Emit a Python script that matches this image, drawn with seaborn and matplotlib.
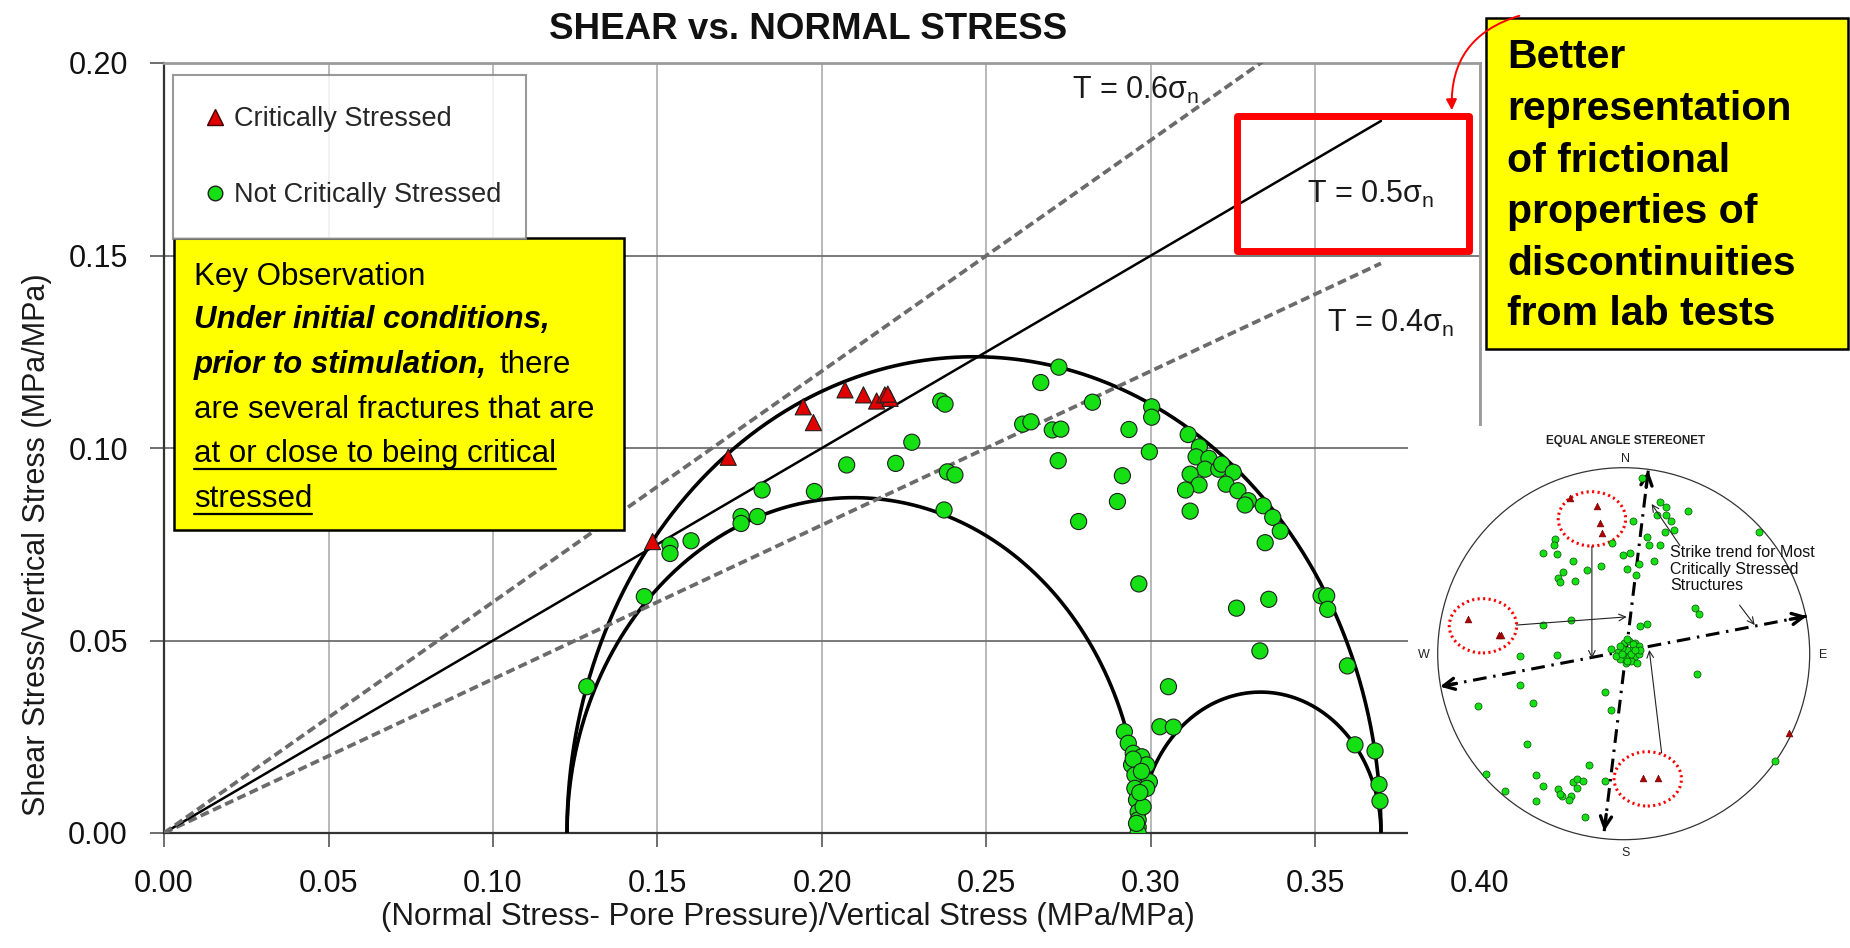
import numpy as np
import pandas as pd
import matplotlib
matplotlib.use("Agg")
import matplotlib.pyplot as plt
import seaborn as sns
from matplotlib.patches import Rectangle, Ellipse, Circle, FancyArrowPatch
from matplotlib.lines import Line2D
from matplotlib import font_manager as fm

# ---------------- data ----------------
principal_stresses = [0.1225, 0.2967, 0.3699]      # sigma3, sigma2, sigma1 (normalised)
friction_coeffs = [0.4, 0.5, 0.6]
friction_labels = ["T = 0.4σ$_\\mathrm{n}$", "T = 0.5σ$_\\mathrm{n}$", "T = 0.6σ$_\\mathrm{n}$"]
friction_label_pos = [(0.3534, 0.1301), (0.3473, 0.1637), (0.2759, 0.1906)]

crit_x = [0.1485, 0.1715, 0.1943, 0.1974, 0.2070, 0.2126, 0.2166, 0.2191, 0.2207, 0.2200]
crit_y = [0.0757, 0.0976, 0.1107, 0.1066, 0.1151, 0.1138, 0.1122, 0.1138, 0.1129, 0.1140]

ncrit_x = [0.1285, 0.1460, 0.1538, 0.1538, 0.1602, 0.1754, 0.1754, 0.1804, 0.1818, 0.1977,
           0.2075, 0.2224, 0.2273, 0.2361, 0.2374, 0.2381, 0.2404, 0.2371, 0.2665, 0.2610,
           0.2635, 0.2720, 0.2822, 0.2700, 0.2726, 0.2933, 0.3002, 0.3002, 0.2995, 0.2718,
           0.2913, 0.2898, 0.2780, 0.2963, 0.3113, 0.3147, 0.3137, 0.3176, 0.3164, 0.3119,
           0.3206, 0.3215, 0.3250, 0.3146, 0.3105, 0.3228, 0.3264, 0.3296, 0.3286, 0.3341,
           0.3370, 0.3119, 0.3393, 0.3347, 0.3517, 0.3534, 0.3537, 0.3358, 0.3260, 0.3331,
           0.3597, 0.3053, 0.3027, 0.3068, 0.3620, 0.3681, 0.3693, 0.3696,
           0.2919, 0.2931, 0.2946, 0.2972, 0.2987, 0.2941, 0.2951, 0.2995, 0.2951, 0.2987,
           0.2956, 0.2961, 0.2961, 0.2961, 0.2961, 0.2976, 0.2966, 0.2946, 0.2971, 0.2956]
ncrit_y = [0.0380, 0.0614, 0.0748, 0.0726, 0.0759, 0.0822, 0.0804, 0.0822, 0.0891, 0.0887,
           0.0956, 0.0960, 0.1015, 0.1122, 0.1114, 0.0938, 0.0930, 0.0839, 0.1170, 0.1062,
           0.1068, 0.1210, 0.1119, 0.1047, 0.1049, 0.1048, 0.1107, 0.1080, 0.0990, 0.0967,
           0.0928, 0.0861, 0.0809, 0.0647, 0.1035, 0.1003, 0.0977, 0.0973, 0.0945, 0.0932,
           0.0945, 0.0958, 0.0937, 0.0904, 0.0891, 0.0906, 0.0889, 0.0863, 0.0852, 0.0850,
           0.0820, 0.0836, 0.0784, 0.0754, 0.0616, 0.0616, 0.0581, 0.0607, 0.0584, 0.0473,
           0.0434, 0.0380, 0.0276, 0.0275, 0.0229, 0.0213, 0.0126, 0.0083,
           0.0263, 0.0233, 0.0207, 0.0198, 0.0177, 0.0177, 0.0151, 0.0133, 0.0116, 0.0116,
           0.0086, 0.0055, 0.0034, 0.0015, 0.0000, 0.0068, 0.0105, 0.0192, 0.0160, 0.0025]

x_ticks = [0.00, 0.05, 0.10, 0.15, 0.20, 0.25, 0.30, 0.35, 0.40]
y_ticks = [0.00, 0.05, 0.10, 0.15, 0.20]
status_labels = ["Critically Stressed", "Not Critically Stressed"]

# stereonet (unit circle coordinates)
pole_u = [0.10, 0.195, 0.23, 0.177, 0.23, 0.252, 0.348, 0.052, 0.273, 0.22, 0.125, 0.138, 0.195,
          -0.061, -0.368, -0.375, -0.436, -0.357, -0.273, -0.121, -0.195, -0.329, -0.355, -0.345,
          -0.264, -0.002, 0.034, 0.084, 0.016, 0.066, 0.164, 0.727, 0.382, 0.405, 0.088, 0.127,
          -0.284, -0.434, -0.559, -0.357, -0.066, -0.557, -0.782, -0.489, -0.102, -0.066, 0.396,
          -0.518, -0.738, -0.636, -0.47, -0.434, -0.352, -0.332, -0.282, -0.293, -0.27, -0.252,
          -0.218, -0.252, -0.188, -0.098, -0.47, -0.207, 0.814, -0.345,
          0.0, 0.03, 0.06, 0.08, 0.05, 0.02, -0.01, -0.03, 0.0, 0.03, 0.06, 0.08, 0.04, 0.01,
          -0.02, -0.04, 0.07, 0.09, -0.01, 0.05, 0.02, 0.04, -0.02, 0.06, 0.02]
pole_v = [0.945, 0.818, 0.791, 0.746, 0.746, 0.712, 0.766, 0.712, 0.663, 0.654, 0.627, 0.586, 0.582,
          0.595, 0.618, 0.582, 0.541, 0.534, 0.498, 0.473, 0.45, 0.439, 0.409, 0.386,
          0.393, 0.532, 0.541, 0.484, 0.457, 0.421, 0.496, 0.654, 0.248, 0.211, 0.15, 0.157,
          0.179, 0.154, -0.011, -0.007, 0.025, -0.168, -0.279, -0.266, -0.204, -0.304, -0.111,
          -0.488, -0.645, -0.739, -0.654, -0.709, -0.73, -0.766, -0.766, -0.786, -0.691, -0.673,
          -0.682, -0.721, -0.6, -0.682, -0.793, -0.877, -0.579, -0.752,
          0.06, 0.07, 0.06, 0.04, 0.03, 0.02, 0.03, 0.01, -0.01, -0.02, -0.01, 0.0, -0.04, -0.05,
          -0.03, -0.01, -0.05, 0.02, 0.0, 0.05, 0.08, 0.0, 0.04, 0.02, -0.04]
crit_pole_u = [-0.145, -0.127, -0.118, -0.291, -0.836, -0.671, -0.660, 0.105, 0.182, 0.891]
crit_pole_v = [0.793, 0.702, 0.648, 0.836, 0.186, 0.100, 0.100, -0.668, -0.668, -0.427]
strike_ns = [(-0.105, -0.954), (0.132, 0.984)]
strike_ew = [(0.984, 0.202), (-0.988, -0.177)]

# ---------------- style ----------------
sns.set_style("white")
avail = {f.name for f in fm.fontManager.ttflist}
HAS_NARROW = "Liberation Sans Narrow" in avail
plt.rcParams["font.family"] = ["Liberation Sans", "DejaVu Sans"]
plt.rcParams["mathtext.fontset"] = "custom"
plt.rcParams["mathtext.rm"] = "Liberation Sans"
plt.rcParams["mathtext.it"] = "Liberation Sans:italic"
plt.rcParams["mathtext.bf"] = "Liberation Sans:bold"
NARROW = ["Liberation Sans Narrow", "Liberation Sans", "DejaVu Sans"] if HAS_NARROW else ["Liberation Sans", "DejaVu Sans"]
KSIZE = 27 if HAS_NARROW else 22.5
SSIZE = 13 if HAS_NARROW else 11.5
TSIZE = 24 if HAS_NARROW else 22

W, H = 1850, 948
fig = plt.figure(figsize=(W / 100, H / 100), dpi=100, facecolor="white")
X0, X1, Y0, Y1 = 164, 1480, 833, 63
ax = fig.add_axes([X0 / W, 1 - Y0 / H, (X1 - X0) / W, (Y0 - Y1) / H])
ax.set_xlim(0, 0.40)
ax.set_ylim(0, 0.20)

# grid
ax.set_axisbelow(True)
ax.xaxis.grid(True, color="#b3b3b3", lw=1.3)
ax.yaxis.grid(True, color="#707070", lw=1.3)
for s in ["top", "right"]:
    ax.spines[s].set_color("#9a9a9a")
    ax.spines[s].set_linewidth(2)
for s in ["left", "bottom"]:
    ax.spines[s].set_color("#333333")
    ax.spines[s].set_linewidth(1.6)

ax.set_xticks(x_ticks)
ax.set_xticklabels([f"{v:.2f}" for v in x_ticks])
ax.set_yticks(y_ticks)
ax.set_yticklabels([f"{v:.2f}" for v in y_ticks])
ax.tick_params(axis="both", direction="out", length=10, width=1.2, color="#555555",
               labelsize=TSIZE, pad=16, labelcolor="#111111", bottom=True, left=True)
for lbl in ax.get_xticklabels() + ax.get_yticklabels():
    lbl.set_family(NARROW)

# Mohr circles
s3, s2, s1 = principal_stresses
theta = np.linspace(0, np.pi, 500)
for a, b in [(s3, s1), (s3, s2), (s2, s1)]:
    c, r = (a + b) / 2, (b - a) / 2
    ax.plot(c + r * np.cos(theta), r * np.sin(theta), color="black", lw=2.6, zorder=3,
            solid_capstyle="butt")

# friction lines
xs = np.array([0.0, s1])
for mu in friction_coeffs:
    if mu == 0.5:
        ax.plot(xs, mu * xs, color="black", lw=1.8, zorder=3)
    else:
        ax.plot(xs, mu * xs, color="#6b6b6b", lw=2.7, linestyle=(0, (2.4, 1.2)), zorder=3)
for lab, (lx, ly) in zip(friction_labels, friction_label_pos):
    ax.text(lx, ly, lab, fontsize=22, color="#1a1a1a", va="baseline", ha="left", zorder=13)

# scatter points
df = pd.DataFrame({
    "x": ncrit_x + crit_x,
    "y": ncrit_y + crit_y,
    "status": [status_labels[1]] * len(ncrit_x) + [status_labels[0]] * len(crit_x),
})
sns.scatterplot(data=df, x="x", y="y", hue="status", style="status",
                markers={status_labels[0]: "^", status_labels[1]: "o"},
                palette={status_labels[0]: "#e00000", status_labels[1]: "#14e014"},
                s=135, edgecolor="#1f1f1f", linewidth=0.8, legend=False, ax=ax, zorder=6)

# labels and title
ax.set_xlabel("(Normal Stress- Pore Pressure)/Vertical Stress (MPa/MPa)", fontsize=22.5, color="#1a1a1a")
ax.xaxis.label.set_va("baseline")
ax.xaxis.set_label_coords(0.474, (Y0 - 925) / (Y0 - Y1))
ax.set_ylabel("Shear Stress/Vertical Stress (MPa/MPa)", fontsize=22, color="#1a1a1a")
ax.yaxis.label.set_va("center")
ax.yaxis.set_label_coords((37 - X0) / (X1 - X0), (Y0 - 545) / (Y0 - Y1))
ax.set_title("SHEAR vs. NORMAL STRESS", fontsize=26.5, fontweight="bold", color="#111111",
             x=(808 - X0) / (X1 - X0), y=(Y0 - 39) / (Y0 - Y1), va="baseline", pad=0)

# legend
handles = [Line2D([], [], marker="^", color="none", markerfacecolor="#e00000",
                  markeredgecolor="#400000", markersize=11),
           Line2D([], [], marker="o", color="none", markerfacecolor="#14e014",
                  markeredgecolor="#1f1f1f", markersize=10.5)]
def afx(px):
    return (px - X0) / (X1 - X0)
def afy(py):
    return (Y0 - py) / (Y0 - Y1)
leg = ax.legend(handles, status_labels, loc="upper left",
                bbox_to_anchor=(afx(173), afy(228), afx(526) - afx(173), afy(75) - afy(228)),
                mode="expand", borderaxespad=0, frameon=True, fancybox=False,
                edgecolor="#808080", fontsize=19.5, labelspacing=1.85, borderpad=1.15,
                handlelength=0.8, handletextpad=0.3)
leg.get_frame().set_linewidth(1.5)
leg.set_zorder(20)

# key observation box
ax.add_patch(Rectangle((afx(174), afy(530)), afx(624) - afx(174), afy(238) - afy(530),
                       transform=ax.transAxes, facecolor="#ffff00", edgecolor="black",
                       lw=1.8, zorder=15, clip_on=False))
kx = afx(194)
kt = dict(transform=ax.transAxes, fontsize=KSIZE, family=NARROW, color="black",
          va="baseline", ha="left", zorder=16, clip_on=False)
ax.text(kx, afy(285), "Key Observation", **kt)
ax.text(kx, afy(328), "Under initial conditions,", fontweight="bold", fontstyle="italic", **kt)
ax.text(kx, afy(373), "prior to stimulation,", fontweight="bold", fontstyle="italic", **kt)
ax.text(afx(500), afy(373), "there", **kt)
ax.text(kx, afy(418), "are several fractures that are", **kt)
u1 = ax.text(kx, afy(462), "at or close to being critical", **kt)
u2 = ax.text(kx, afy(507), "stressed", **kt)

# red rectangle around T = 0.5 label and note
ax.add_patch(Rectangle((0.3261, 0.1512), 0.0706, 0.0350, fill=False, edgecolor="#ff0000",
                       lw=5, zorder=12, clip_on=False, joinstyle="round"))

fig.add_artist(Rectangle((1486 / W, 1 - 349 / H), (1848 - 1486) / W, (349 - 18) / H,
                         transform=fig.transFigure, facecolor="#ffff00", edgecolor="black",
                         lw=1.8, zorder=3))
note_lines = ["Better", "representation", "of frictional", "properties of",
              "discontinuities", "from lab tests"]
for line, by in zip(note_lines, [68, 120, 172, 223, 275, 325]):
    fig.text(1507 / W, 1 - by / H, line, fontsize=29.5, fontweight="bold", color="black",
             va="baseline", ha="left", zorder=4)
fig.add_artist(FancyArrowPatch((1522 / W, 1 - 15 / H), (1452 / W, 1 - 113 / H),
                               transform=fig.transFigure, arrowstyle="-|>", color="#ff0000",
                               lw=1.4, mutation_scale=16, connectionstyle="arc3,rad=0.4",
                               zorder=5))

# ---------------- stereonet inset ----------------
IX0, IX1, IY0, IY1 = 1408, 1850, 866, 426
ax_in = fig.add_axes([IX0 / W, 1 - IY0 / H, (IX1 - IX0) / W, (IY0 - IY1) / H])
cx, cy, R = 1623.7, 653.7, 186.0
ax_in.set_xlim((IX0 - cx) / R, (IX1 - cx) / R)
ax_in.set_ylim((cy - IY0) / R, (cy - IY1) / R)
ax_in.set_facecolor("white")
ax_in.set_xticks([])
ax_in.set_yticks([])
for s in ax_in.spines.values():
    s.set_visible(False)

ax_in.add_patch(Circle((0, 0), 1, fill=False, edgecolor="#333333", lw=0.9, zorder=2))
ax_in.text(0.011, 1.145, "EQUAL ANGLE STEREONET", fontsize=8.5, fontweight="bold",
           ha="center", va="center", color="#222222")
for lab, (lx, ly) in zip("NSWE", [(0.011, 1.047), (0.011, -1.07), (-1.073, -0.007), (1.07, -0.007)]):
    ax_in.text(lx, ly, lab, fontsize=9, ha="center", va="center", color="#222222")

# strike trend lines
for (p0, p1) in [strike_ns, strike_ew]:
    ax_in.plot([p0[0], p1[0]], [p0[1], p1[1]], color="black", lw=2.2,
               linestyle=(0, (4.5, 2.2, 0.8, 2.2)), zorder=3)
    for a_, b_ in [(p0, p1), (p1, p0)]:
        d = np.array(b_) - np.array(a_)
        d = d / np.hypot(*d)
        ax_in.annotate("", xy=b_, xytext=tuple(np.array(b_) - 0.09 * d),
                       arrowprops=dict(arrowstyle="->", lw=2.4, color="black",
                                       mutation_scale=20, shrinkA=0, shrinkB=0), zorder=4)

# red dotted circles
for (ecx, ecy) in [(-0.171, 0.725), (-0.757, 0.150), (0.129, -0.673)]:
    ax_in.add_patch(Ellipse((ecx, ecy), 0.362, 0.292, fill=False, edgecolor="#ff0000",
                            lw=2.2, linestyle=(0, (0.7, 1.1)), zorder=5))

# pole points
sns.scatterplot(x=pole_u, y=pole_v, color="#14e014", edgecolor="#0a4d0a", linewidth=0.5,
                s=26, ax=ax_in, zorder=6, legend=False)
sns.scatterplot(x=crit_pole_u, y=crit_pole_v, color="#b00000", marker="^", edgecolor="#600000",
                linewidth=0.4, s=24, ax=ax_in, zorder=6, legend=False)

# callout arrows
for (a_, b_) in [((-0.171, 0.577), (-0.171, -0.025)),
                 ((-0.577, 0.154), (0.016, 0.198)),
                 ((0.204, -0.534), (0.1375, 0.02)),
                 ((0.302, 0.582), (0.15, 0.805)),
                 ((0.623, 0.261), (0.704, 0.154))]:
    ax_in.annotate("", xy=b_, xytext=a_,
                   arrowprops=dict(arrowstyle="->", lw=0.8, color="#222222",
                                   mutation_scale=12, shrinkA=0, shrinkB=0), zorder=7)
ax_in.text(0.248, 0.585, "Strike trend for Most\nCritically Stressed\nStructures",
           fontsize=SSIZE, family=NARROW, ha="left", va="top", color="#111111",
           linespacing=1.15, zorder=8)

# underlines in the key observation box
fig.canvas.draw()
inv = fig.transFigure.inverted()
for t, by in [(u1, 462), (u2, 507)]:
    bb = t.get_window_extent()
    yb = (H - by) - 6.5
    p0 = inv.transform((bb.x0, yb))
    p1 = inv.transform((bb.x1, yb))
    fig.add_artist(Line2D([p0[0], p1[0]], [p0[1], p1[1]], color="black", lw=1.6, zorder=5))

fig.savefig("out.png", dpi=100, facecolor="white")
